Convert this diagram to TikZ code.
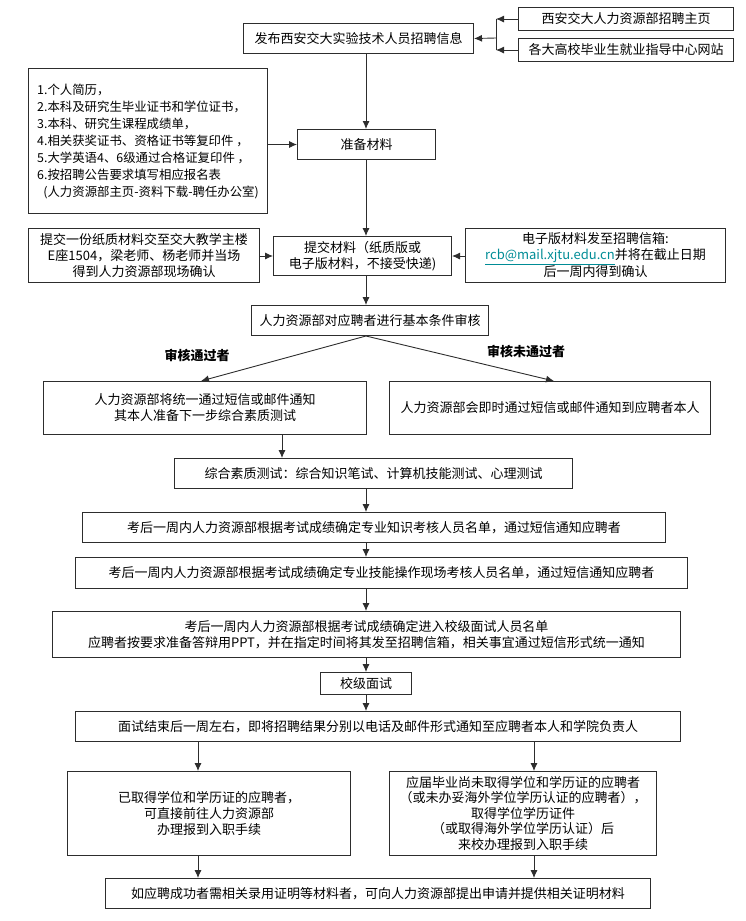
\documentclass[tikz,border=0pt]{standalone}
\usepackage{fontspec}
\setmainfont{Noto Sans CJK SC}
\usetikzlibrary{arrows.meta,calc}
\definecolor{edge}{RGB}{45,45,45}
\definecolor{linkteal}{RGB}{0,140,150}

\begin{document}
\begin{tikzpicture}[x=1pt,y=-1pt,
  flowbox/.style={draw=edge,line width=1pt,anchor=north west,inner sep=2pt,align=center,
    font=\fontsize{13}{16}\selectfont},
  flowline/.style={draw=edge,line width=0.9pt},
  flowarrow/.style={flowline,-{Latex[length=8pt,width=7pt]}}]
\useasboundingbox (0,0) rectangle (746,921);
\coordinate (axis) at (366,0);
\coordinate (branch) at (282,0);
\coordinate (leftlane) at (198,0);
\coordinate (rightlane) at (534,0);
\coordinate (join) at (496,38);

% publishing and sources
\node[flowbox,minimum width=230pt,minimum height=30pt] at (243,23) (pub) {发布西安交大实验技术人员招聘信息};
\node[flowbox,minimum width=215pt,minimum height=23pt] at (518,7) (hrsite) {西安交大人力资源部招聘主页};
\node[flowbox,minimum width=215pt,minimum height=23pt] at (518,38) (unisite) {各大高校毕业生就业指导中心网站};

% materials
\node[flowbox,align=left,minimum width=239pt,minimum height=145pt,font=\fontsize{12.4}{17}\selectfont] at (28,68) (docs)
  {1.个人简历，\\2.本科及研究生毕业证书和学位证书，\\3.本科、研究生课程成绩单，\\4.相关获奖证书、资格证书等复印件 ，\\5.大学英语4、6级通过合格证复印件 ，\\6.按招聘公告要求填写相应报名表\\\hspace{0.5em}(人力资源部主页-资料下载-聘任办公室)};
\node[flowbox,minimum width=138pt,minimum height=30pt] at (297,129) (prep) {准备材料};

% submission
\node[flowbox,minimum width=231pt,minimum height=54pt] at (28,228) (paper) {提交一份纸质材料交至交大教学主楼\\E座1504，梁老师、杨老师并当场\\得到人力资源部现场确认};
\node[flowbox,minimum width=178pt,minimum height=39pt] at (273,236) (submit) {提交材料（纸质版或\\电子版材料，不接受快递)};
\node[flowbox,minimum width=260pt,minimum height=54pt] at (465,228) (email) {电子版材料发至招聘信箱:\\{\color{linkteal}\underline{rcb@mail.xjtu.edu.cn}}并将在截止日期\\后一周内得到确认};

% review
\node[flowbox,minimum width=237pt,minimum height=30pt] at (251,305) (check) {人力资源部对应聘者进行基本条件审核};
\node[font=\fontsize{13}{16}\selectfont\bfseries] at (197,355) (passlbl) {审核通过者};
\node[font=\fontsize{13}{16}\selectfont\bfseries] at (526,351) (faillbl) {审核未通过者};
\node[flowbox,minimum width=323pt,minimum height=53pt] at (43,381) (pass) {人力资源部将统一通过短信或邮件通知\\其本人准备下一步综合素质测试};
\node[flowbox,minimum width=321pt,minimum height=53pt] at (389,381) (fail) {人力资源部会即时通过短信或邮件通知到应聘者本人};

% tests
\node[flowbox,minimum width=398pt,minimum height=30pt] at (174,458) (test) {综合素质测试：综合知识笔试、计算机技能测试、心理测试};
\node[flowbox,minimum width=583pt,minimum height=30pt] at (82,512) (know) {考后一周内人力资源部根据考试成绩确定专业知识考核人员名单，通过短信通知应聘者};
\node[flowbox,minimum width=612pt,minimum height=31pt] at (75,557) (skill) {考后一周内人力资源部根据考试成绩确定专业技能操作现场考核人员名单，通过短信通知应聘者};
\node[flowbox,minimum width=628pt,minimum height=46pt] at (52,611) (shortlist) {考后一周内人力资源部根据考试成绩确定进入校级面试人员名单\\应聘者按要求准备答辩用PPT，并在指定时间将其发至招聘信箱，相关事宜通过短信形式统一通知};
\node[flowbox,minimum width=91pt,minimum height=22pt] at (320,672) (intv) {校级面试};
\node[flowbox,minimum width=605pt,minimum height=30pt] at (75,711) (result) {面试结束后一周左右，即将招聘结果分别以电话及邮件形式通知至应聘者本人和学院负责人};

% onboarding
\node[flowbox,minimum width=283pt,minimum height=84pt] at (67,771) (got) {已取得学位和学历证的应聘者，\\可直接前往人力资源部\\办理报到入职手续};
\node[flowbox,minimum width=267pt,minimum height=84pt,font=\fontsize{13}{15.5}\selectfont] at (389,771) (grad) {应届毕业尚未取得学位和学历证的应聘者\\（或未办妥海外学位学历认证的应聘者），\\取得学位学历证件\\（或取得海外学位学历认证）后\\来校办理报到入职手续};
\node[flowbox,minimum width=545pt,minimum height=30pt] at (105,878) (proof) {如应聘成功者需相关录用证明等材料者，可向人力资源部提出申请并提供相关证明材料};

% connectors
\draw[flowarrow] (hrsite.west) -- (hrsite.west -| join);
\draw[flowarrow] (unisite.west) -- (unisite.west -| join);
\draw[flowline] (hrsite.west -| join) -- (unisite.west -| join);
\draw[flowarrow] (join) -- (pub.east);
\draw[flowarrow] (pub.south -| axis) -- (prep.north -| axis);
\draw[flowarrow] (docs.east |- prep.west) -- (prep.west);
\draw[flowarrow] (prep.south -| axis) -- (submit.north -| axis);
\draw[flowarrow] (paper.east |- submit.west) -- (submit.west);
\draw[flowarrow] (email.west |- submit.east) -- (submit.east);
\draw[flowarrow] (submit.south -| axis) -- (check.north -| axis);
\draw[flowarrow] (check.south -| axis) -- ($(pass.north)+(-4,0)$);
\draw[flowarrow] (check.south -| axis) -- ($(fail.north)+(4,0)$);
\draw[flowarrow] (pass.south -| branch) -- (test.north -| branch);
\draw[flowarrow] (test.south -| axis) -- (know.north -| axis);
\draw[flowarrow] (know.south -| axis) -- (skill.north -| axis);
\draw[flowarrow] (skill.south -| axis) -- (shortlist.north -| axis);
\draw[flowarrow] (shortlist.south -| axis) -- (intv.north -| axis);
\draw[flowarrow] (intv.south -| axis) -- (result.north -| axis);
\draw[flowarrow] (result.south -| leftlane) -- (got.north -| leftlane);
\draw[flowarrow] (result.south -| rightlane) -- (grad.north -| rightlane);
\draw[flowarrow] (got.south -| leftlane) -- (proof.north -| leftlane);
\draw[flowarrow] (grad.south -| rightlane) -- (proof.north -| rightlane);
\end{tikzpicture}
\end{document}
